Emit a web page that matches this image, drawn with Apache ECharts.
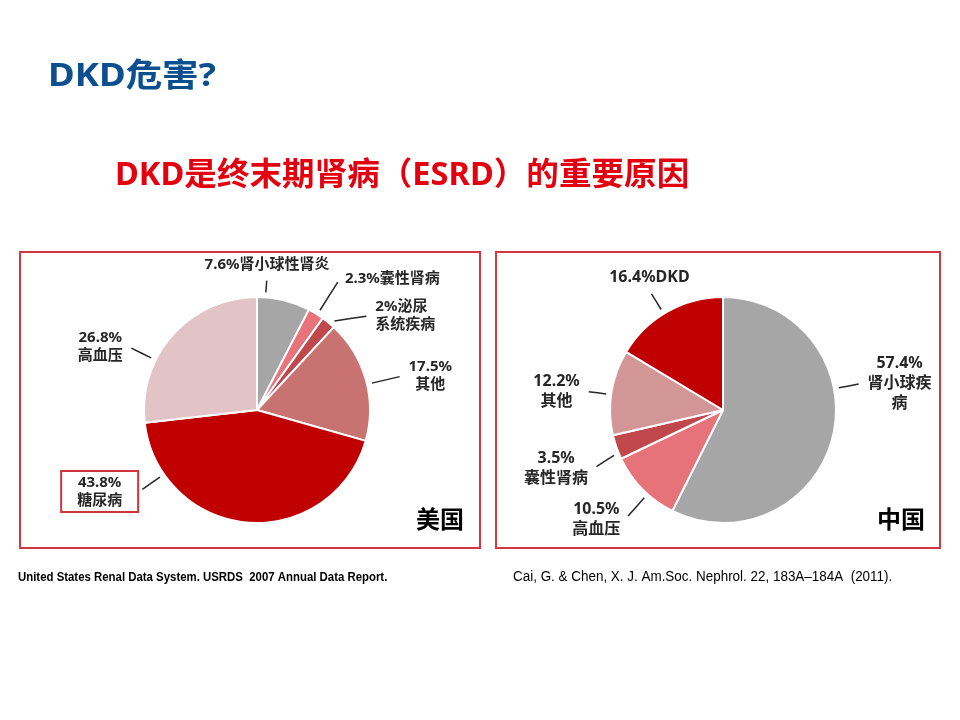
<!DOCTYPE html>
<html>
<head>
<meta charset="utf-8">
<script src="https://cdn.jsdelivr.net/npm/echarts@6/dist/echarts.min.js"></script>
<style>
  html, body { margin: 0; padding: 0; background: #fff; }
  #main { width: 960px; height: 720px; }
</style>
</head>
<body>
<div id="main"></div>
<script>
// 美国 ESRD 病因构成 (USRDS 2007)
var usNames  = ['肾小球性肾炎', '囊性肾病', '泌尿\n系统疾病', '其他', '糖尿病', '高血压'];
var usValues = [7.6, 2.3, 2, 17.5, 43.8, 26.8];
var usBreak  = [false, false, false, true, true, true];

// 中国 ESRD 病因构成 (Cai & Chen 2011)
var cnNames  = ['肾小球疾\n病', '高血压', '囊性肾病', '其他', 'DKD'];
var cnValues = [57.4, 10.5, 3.5, 12.2, 16.4];
var cnBreak  = [true, true, true, true, false];

var usColors = ['#a6a6a6', '#e8737b', '#c0474b', '#c87272', '#c00000', '#e2c3c6'];
var cnColors = ['#a6a6a6', '#e6727a', '#c0474b', '#d39696', '#c00000'];

// label nudges from the default outside position: [dx, dy, align, leader side]
var usNudge = [[-25, -22, 'center'], [64, -23, 'center'], [28, 4, 'left'],
               [46, 0, 'center'], [-143, -45, 'center'], [-57, 21, 'center']];
var cnNudge = [[48, -56, 'center'], [-31, 20, 'center'], [-42, 17, 'center'],
               [-36, 1, 'center'], [-6, -22, 'center', 'bottom']];

var FONT = '"Noto Sans", "Noto Sans CJK SC"';
var RADIUS = 113;
var SIDES = ['top', 'right', 'bottom', 'left'];

var chart = echarts.init(document.getElementById('main'));

function buildData(names, values, colors, breaks, boxed) {
    return values.map(function (v, i) {
        var item = {
            name: names[i],
            value: v,
            itemStyle: { color: colors[i] },
            label: {
                formatter: v + '%' + (breaks[i] ? '\n' : '') + names[i]
            }
        };
        if (boxed === i) {
            item.label.borderColor = '#d0343c';
            item.label.borderWidth = 2;
            item.label.padding = [3, 16, 2, 16];
        }
        return item;
    });
}

function pieSeries(center, values, data, nudge, fontSize, lineHeight) {
    // slice angle ranges (degrees, clockwise from 12 o'clock)
    var total = values.reduce(function (a, b) { return a + b; }, 0);
    var acc = 0, ranges = values.map(function (v) {
        var a0 = acc / total * 360;
        acc += v;
        return [a0, acc / total * 360];
    });
    var cx = center[0], cy = center[1];

    return {
        type: 'pie',
        center: center,
        radius: RADIUS,
        startAngle: 90,
        clockwise: true,
        avoidLabelOverlap: false,
        silent: true,
        itemStyle: { borderColor: '#fff', borderWidth: 2 },
        label: {
            show: true,
            position: 'outside',
            color: '#262626',
            fontFamily: FONT,
            fontWeight: 'bold',
            fontSize: fontSize,
            lineHeight: lineHeight,
            padding: [3, 5]
        },
        labelLine: {
            show: true,
            length: 14,
            length2: 0,
            lineStyle: { color: '#262626', width: 1.5 }
        },
        labelLayout: function (params) {
            var i = params.dataIndex, n = nudge[i], r = params.labelRect;
            var ax = params.align === 'left' ? r.x
                : params.align === 'right' ? r.x + r.width : r.x + r.width / 2;
            var x = ax + n[0], y = r.y + r.height / 2 + n[1];
            var w = r.width, h = r.height;
            var left = n[2] === 'left' ? x : n[2] === 'right' ? x - w : x - w / 2;
            var top = y - h / 2;
            var cands = [[left + w / 2, top], [left + w, top + h / 2],
                         [left + w / 2, top + h], [left, top + h / 2]];
            if (n[3]) cands = [cands[SIDES.indexOf(n[3])]];
            var mid = (ranges[i][0] + ranges[i][1]) / 2;
            var half = (ranges[i][1] - ranges[i][0]) / 2;
            var lim = Math.max(0, half - Math.min(half * 0.5, 3));
            var best = null;
            cands.forEach(function (p) {
                var ang = Math.atan2(p[0] - cx, cy - p[1]) * 180 / Math.PI;
                var diff = ((ang - mid) % 360 + 540) % 360 - 180;
                diff = Math.max(-lim, Math.min(lim, diff));
                var rad = (mid + diff) * Math.PI / 180;
                var s = [cx + (RADIUS + 5) * Math.sin(rad), cy - (RADIUS + 5) * Math.cos(rad)];
                var d = Math.hypot(s[0] - p[0], s[1] - p[1]);
                if (!best || d < best.d) best = { p: p, s: s, d: d };
            });
            var ux = (best.s[0] - best.p[0]) / best.d, uy = (best.s[1] - best.p[1]) / best.d;
            var e = [best.p[0] + ux * 4, best.p[1] + uy * 4];
            return {
                x: x, y: y, align: n[2], verticalAlign: 'middle',
                labelLinePoints: [best.s, [(best.s[0] + e[0]) / 2, (best.s[1] + e[1]) / 2], e]
            };
        },
        data: data
    };
}

chart.setOption({
    backgroundColor: '#fff',
    animation: false,
    graphic: [
        {
            type: 'text', x: 48, y: 61, scaleX: 1.14,
            style: {
                text: 'DKD危害?', fill: '#0b4f8e',
                font: 'bold 32px ' + FONT
            }
        },
        {
            type: 'text', x: 115, y: 160, scaleX: 1.018,
            style: {
                text: 'DKD是终末期肾病（ESRD）的重要原因', fill: '#e3000f',
                font: 'bold 32px ' + FONT
            }
        },
        {
            type: 'rect',
            shape: { x: 20, y: 252, width: 460, height: 296 },
            style: { fill: 'none', stroke: '#cf3a42', lineWidth: 2 }
        },
        {
            type: 'rect',
            shape: { x: 496, y: 252, width: 444, height: 296 },
            style: { fill: 'none', stroke: '#cf3a42', lineWidth: 2 }
        },
        {
            type: 'text', x: 416, y: 509,
            style: { text: '美国', fill: '#000', font: 'bold 24px ' + FONT }
        },
        {
            type: 'text', x: 877, y: 509,
            style: { text: '中国', fill: '#000', font: 'bold 24px ' + FONT }
        },
        {
            type: 'text', x: 18, y: 572, scaleX: 0.95,
            style: {
                text: 'United States Renal Data System. USRDS  2007 Annual Data Report.',
                fill: '#000', font: 'bold 12px "Liberation Sans"'
            }
        },
        {
            type: 'text', x: 513, y: 570, scaleX: 0.96,
            style: {
                text: 'Cai, G. & Chen, X. J. Am.Soc. Nephrol. 22, 183A–184A  (2011).',
                fill: '#000', font: '14px "Liberation Sans"'
            }
        }
    ],
    series: [
        pieSeries([257, 410], usValues,
            buildData(usNames, usValues, usColors, usBreak, 4), usNudge, 15, 18),
        pieSeries([723, 410], cnValues,
            buildData(cnNames, cnValues, cnColors, cnBreak, -1), cnNudge, 16, 20)
    ]
});
</script>
</body>
</html>
